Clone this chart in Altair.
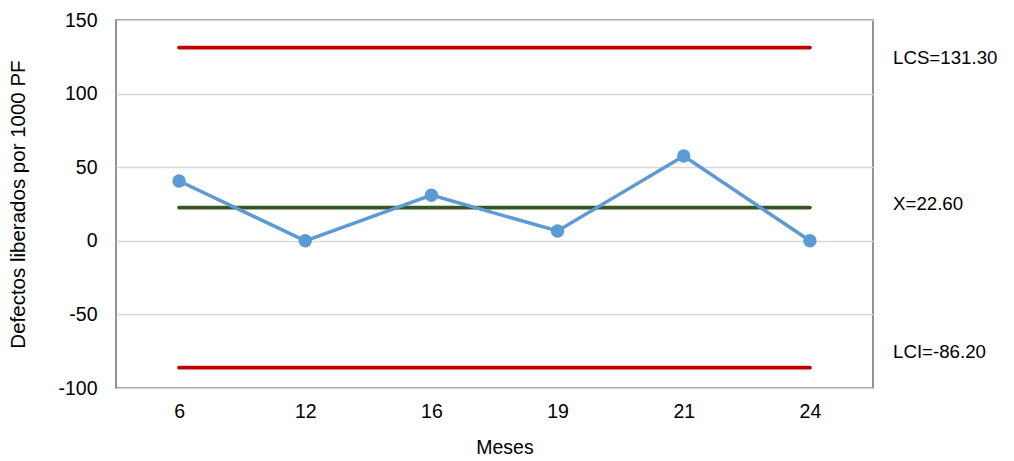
import altair as alt
import pandas as pd

# Control chart data: defects released per 1000 PF by month
meses = ["6", "12", "16", "19", "21", "24"]
defectos = [40.6, 0.0, 31.0, 6.7, 57.6, 0.0]

lcs = 131.30
media = 22.60
lci = -86.20

y_ticks = [-100, -50, 0, 50, 100, 150]

FONT = "Liberation Sans"
W, H = 757, 368

df = pd.DataFrame({"mes": meses, "valor": defectos})
limits = pd.DataFrame({
    "mes": meses * 3,
    "valor": [lcs] * len(meses) + [media] * len(meses) + [lci] * len(meses),
    "serie": ["LCS"] * len(meses) + ["X"] * len(meses) + ["LCI"] * len(meses),
})

x_scale = alt.Scale(type="point", padding=0.5)
x_enc = alt.X(
    "mes:N",
    sort=meses,
    scale=x_scale,
    axis=alt.Axis(
        title="Meses", labelAngle=0, tickSize=0, labelPadding=23,
        titlePadding=18, domain=False, grid=False, labelAlign="center",
        titleX=W / 2 + 10,
    ),
)
y_scale = alt.Scale(domain=[-100, 150], nice=False, zero=False)
y_enc = alt.Y(
    "valor:Q",
    scale=y_scale,
    axis=alt.Axis(
        title="Defectos liberados por 1000 PF", values=y_ticks, tickSize=0,
        labelPadding=19, domain=False, grid=True, gridColor="#d9d9d9",
        gridWidth=1.5, titlePadding=29, titleFontSize=20.5,
        labelExpr="'' + datum.value",
    ),
)

limit_colors = {"LCS": "#c00000", "X": "#375623", "LCI": "#c00000"}
limit_layers = []
for name, color in limit_colors.items():
    limit_layers.append(
        alt.Chart(limits[limits["serie"] == name])
        .mark_line(color=color, strokeWidth=3.8, strokeCap="round")
        .encode(x=alt.X("mes:N", sort=meses, scale=x_scale),
                y=alt.Y("valor:Q", scale=y_scale))
    )

serie = alt.Chart(df).encode(x=x_enc, y=y_enc)
line = serie.mark_line(color="#5b9bd5", strokeWidth=3.5)
points = serie.mark_circle(color="#5b9bd5", size=180, opacity=1)

# Labels for each limit, placed to the right of the plot area
label_specs = [("LCS", lcs, 10), ("X", media, -4), ("LCI", lci, -16)]
label_layers = []
for name, val, dy in label_specs:
    label_layers.append(
        alt.Chart(pd.DataFrame({"valor": [val], "txt": [f"{name}={val:.2f}"]}))
        .mark_text(align="left", baseline="middle", dy=dy, fontSize=18.7,
                   font=FONT, color="#000000", clip=False)
        .encode(x=alt.value(W + 20), y=alt.Y("valor:Q", scale=y_scale), text="txt:N")
    )

chart = (
    alt.layer(*limit_layers, line, points, *label_layers)
    .properties(
        width=W, height=H,
        autosize=alt.AutoSizeParams(type="none"),
        padding={"left": 116, "top": 20, "right": 141, "bottom": 73},
    )
    .configure(background="white")
    .configure_view(stroke="#707070", strokeWidth=1.5)
    .configure_axis(
        labelFont=FONT, titleFont=FONT, labelFontSize=19.5, titleFontSize=19.5,
        labelColor="#000000", titleColor="#000000", titleFontWeight="normal",
    )
)

chart.save("out.html", embed_options={"renderer": "svg", "actions": False})
